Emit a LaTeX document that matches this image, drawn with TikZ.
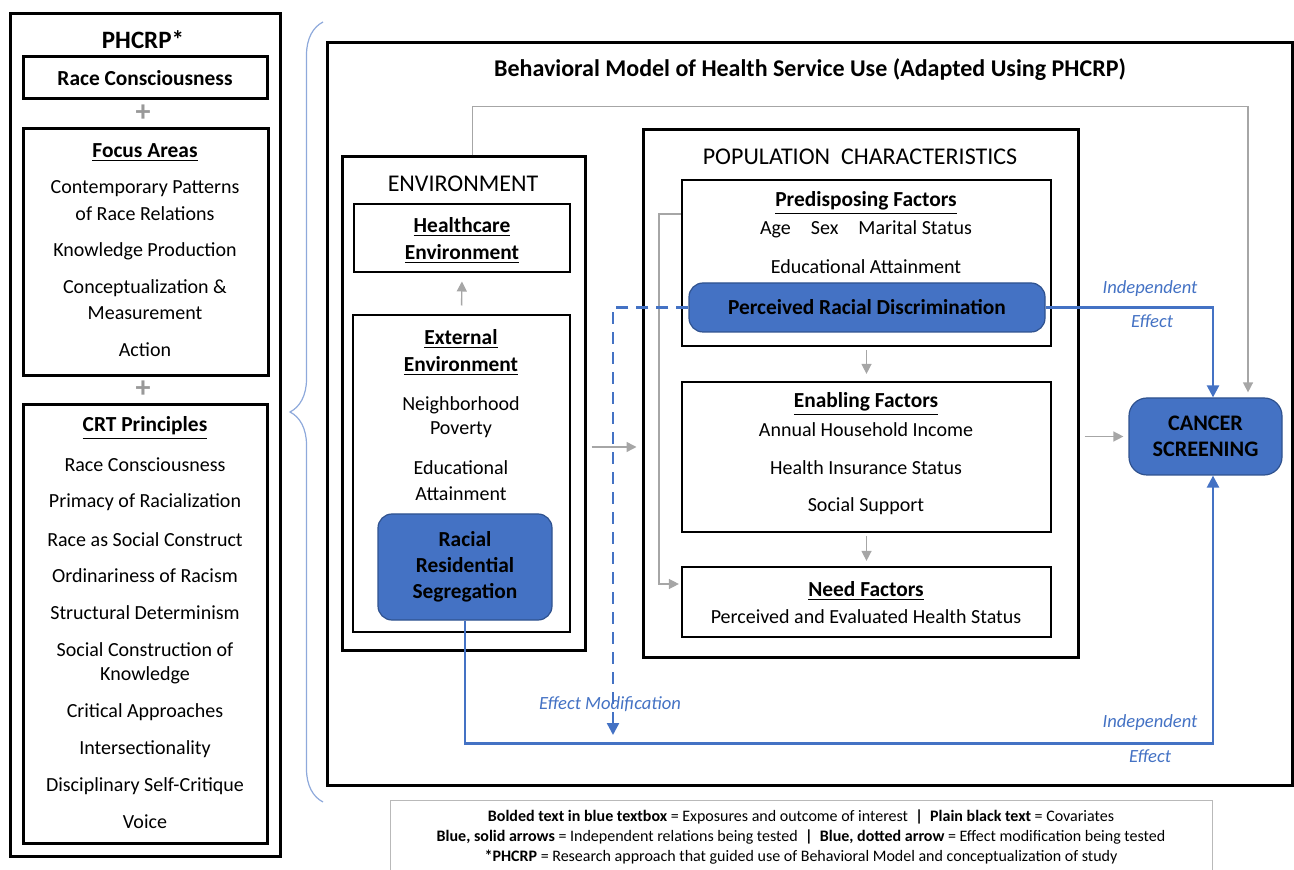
\documentclass[tikz,border=0pt]{standalone}
\usepackage{fontspec}
\setmainfont{Carlito}
\usetikzlibrary{arrows.meta,positioning,fit,calc,decorations.pathreplacing}

\definecolor{boxblue}{HTML}{4472C4}
\definecolor{boxedge}{HTML}{2F528F}
\definecolor{arrowgray}{HTML}{A6A6A6}
\definecolor{bracecol}{HTML}{8EA9DB}

\begin{document}
\begin{tikzpicture}[
  x=0.5pt, y=-0.5pt,
  every node/.style={font=\fontsize{10}{12.5}\selectfont, inner sep=0pt},
  outerbox/.style={draw, line width=1.5pt},
  innerbox/.style={draw, line width=1.1pt},
  bluebox/.style={draw=boxedge, fill=boxblue, line width=0.6pt, rounded corners=7pt},
  head/.style={font=\fontsize{10.7}{13}\selectfont\bfseries},
  section/.style={font=\fontsize{12}{14}\selectfont},
  plussign/.style={text=gray!80, font=\fontsize{15}{15}\selectfont\bfseries},
  graylink/.style={draw=arrowgray, line width=0.7pt, -{Triangle[length=5pt,width=5pt]}},
  bluelink/.style={draw=boxblue, line width=1.2pt, -{Triangle[length=6pt,width=6pt]}},
  efflabel/.style={text=boxblue, font=\fontsize{9.3}{11}\selectfont\itshape},
]
\useasboundingbox (0,0) rectangle (1294,870);

%% PHCRP panel
\node[outerbox, fit={(10,14) (280,856)}] (phcrp) {};
\node[font=\fontsize{12.5}{15}\selectfont\bfseries] (phcrptitle) at (143,40) {PHCRP*};
\node[outerbox, fit={(23,57) (267,99)}] (racebox) {};
\node[head] (racetxt) at (racebox) {Race Consciousness};
\node[plussign] (plus1) at (143,113) {+};

\node[outerbox, fit={(23,129) (268,376)}] (focus) {};
\node[head] (focushead) at (145,153) {\underline{Focus Areas}};
\foreach \yy/\txt [count=\i] in {189/Contemporary Patterns, 214/of Race Relations,
    251/Knowledge Production, 288/Conceptualization \&, 313/Measurement, 350/Action}
  \node (fa\i) at (145,\yy) {\txt};
\node[plussign] (plus2) at (143,389) {+};

\node[outerbox, fit={(23,405) (267,843)}] (crt) {};
\node[head] (crthead) at (145,428) {\underline{CRT Principles}};
\foreach \yy/\txt [count=\i] in {465/Race Consciousness, 502/Primacy of Racialization,
    540/Race as Social Construct, 576/Ordinariness of Racism, 613/Structural Determinism,
    650/Social Construction of, 675/Knowledge, 712/Critical Approaches,
    749/Intersectionality, 786/Disciplinary Self-Critique, 822/Voice}
  \node (crt\i) at (145,\yy) {\txt};

%% Brace
\draw[bracecol, line width=0.6pt, decorate,
      decoration={brace, amplitude=16.5pt, aspect=0.5}] (323,802) -- (323,22);

%% Behavioral model
\node[outerbox, fit={(327,43) (1292,785)}] (bmodel) {};
\node[font=\fontsize{12}{14}\selectfont\bfseries] (bmtitle) at (810,70)
  {Behavioral Model of Health Service Use (Adapted Using PHCRP)};

%% Environment
\node[outerbox, fit={(342,157) (585,650)}] (env) {};
\node[section] (envtitle) at (463,184) {ENVIRONMENT};
\node[innerbox, line width=1pt, fit={(354,204) (570,272)}] (hcenv) {};
\node[head] (hc1) at (462,227) {\underline{Healthcare}};
\node[head] (hc2) at (462,254) {\underline{Environment}};
\node[innerbox, line width=1pt, fit={(353,315) (570,632)}] (extenv) {};
\node[head] (ext1) at (461,339) {\underline{External}};
\node[head] (ext2) at (461,366) {\underline{Environment}};
\foreach \yy/\txt [count=\i] in {405/Neighborhood, 430/Poverty, 468/Educational, 494/Attainment}
  \node (ee\i) at (461,\yy) {\txt};
\node[bluebox, fit={(378,514) (552,620)}] (segreg) {};
\node[head, align=center, font=\fontsize{10.7}{13}\selectfont\bfseries] (segtxt) at (segreg)
  {Racial\\Residential\\Segregation};

%% Population characteristics
\node[outerbox, fit={(643,130) (1078,657)}] (popchar) {};
\node[section] (poptitle) at (860,157) {POPULATION\ \ CHARACTERISTICS};
\node[innerbox, fit={(682,180) (1051,346)}] (predisp) {};
\node[head] (pd0) at (866,203) {\underline{Predisposing Factors}};
\node (pd1) at (866,229) {Age\quad Sex\quad Marital Status};
\node (pd2) at (866,267) {Educational Attainment};
\node[bluebox, fit={(689,283) (1045,332)}] (percdisc) {};
\node[head] (perctxt) at (percdisc) {Perceived Racial Discrimination};

\node[innerbox, fit={(682,382) (1051,532)}] (enabling) {};
\node[head] (en0) at (866,404) {\underline{Enabling Factors}};
\foreach \yy/\txt [count=\i] in {430/Annual Household Income, 468/Health Insurance Status, 506/Social Support}
  \node (en\i) at (866,\yy) {\txt};

\node[innerbox, fit={(682,567) (1051,637)}] (needf) {};
\node[head] (nf0) at (866,591) {\underline{Need Factors}};
\node (nf1) at (866,617) {Perceived and Evaluated Health Status};

%% Outcome
\node[bluebox, rounded corners=9pt, fit={(1129,398) (1282,475)}] (cancer) {};
\node[head, align=center, font=\fontsize{11.1}{13}\selectfont\bfseries] (cancertxt) at (cancer)
  {CANCER\\SCREENING};

%% Gray covariate paths
\draw[graylink, shorten <=4.25pt, shorten >=4.25pt] (extenv.north) -- (hcenv.south);
\draw[graylink, shorten <=2.5pt, shorten >=2.5pt]
  ([yshift=-21.75pt]env.east) -- ([yshift=-26.75pt]popchar.west);
\draw[graylink, shorten <=1.5pt, shorten >=3.5pt] (predisp.south) -- (enabling.north);
\draw[graylink, shorten <=1.5pt, shorten >=2.5pt] (enabling.south) -- (needf.north);
\draw[graylink, shorten >=1pt]
  ([yshift=-17.5pt]predisp.north west) -- ++(-22,0) |- ([yshift=9pt]needf.west);
\draw[graylink, shorten <=2.5pt, shorten >=2.5pt] (popchar.east |- cancer.west) -- (cancer.west);
\draw[graylink, shorten >=2.5pt]
  ([xshift=4.5pt]env.north) -- ++(0,-49) -| ([xshift=21.25pt]cancer.north);

%% Blue exposure paths
\coordinate (emtip) at (613,735);
\draw[bluelink] (percdisc.east) -| ([xshift=3.75pt]cancer.north);
\draw[bluelink] (segreg.south) -- ++(0,123) -| ([xshift=3.75pt]cancer.south);
\draw[bluelink, dash pattern=on 6pt off 4pt] (percdisc.west) -| (emtip);

\node[efflabel] (ind1) at (1150,289) {Independent};
\node[efflabel] (eff1) at (1152,321) {Effect};
\node[efflabel] (ind2) at (1150,723) {Independent};
\node[efflabel] (eff2) at (1150,756) {Effect};
\node[efflabel] (effmod) at (610,704) {Effect Modification};

%% Legend
\node[draw=gray!55, line width=0.5pt, fit={(390,800) (1212,873)}] (legend) {};
\node[font=\fontsize{8}{9.5}\selectfont] (leg1) at (801,817)
  {\textbf{Bolded text in blue textbox} = Exposures and outcome of interest\ \ \textbf{|}\ \ \textbf{Plain black text} = Covariates};
\node[font=\fontsize{8}{9.5}\selectfont] (leg2) at (801,837)
  {\textbf{Blue, solid arrows} = Independent relations being tested\ \ \textbf{|}\ \ \textbf{Blue, dotted arrow} = Effect modification being tested};
\node[font=\fontsize{8}{9.5}\selectfont] (leg3) at (801,857)
  {\textbf{*PHCRP} = Research approach that guided use of Behavioral Model and conceptualization of study};

\end{tikzpicture}
\end{document}
